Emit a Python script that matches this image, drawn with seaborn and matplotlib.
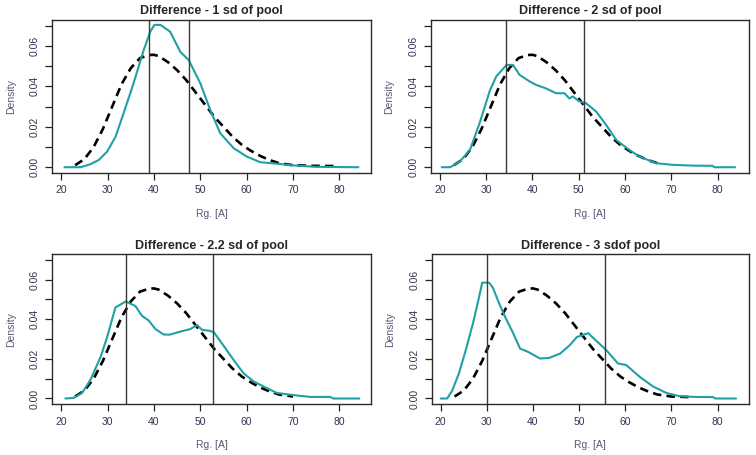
import matplotlib
matplotlib.use("Agg")
import matplotlib.pyplot as plt
import seaborn as sns

# pooled Rg distribution (dashed line), shared by all panels
pool_rg = [23, 25, 27, 29, 31, 33, 35, 37, 39, 40, 41, 43, 45, 47, 49, 51,
           53, 55, 57, 59, 61, 63, 65, 67, 70, 74, 79]
pool_density = [0.001, 0.004, 0.010, 0.019, 0.030, 0.041, 0.049, 0.054, 0.0555,
                0.0556, 0.055, 0.052, 0.048, 0.043, 0.037, 0.031, 0.025, 0.020,
                0.015, 0.011, 0.008, 0.0055, 0.0035, 0.002, 0.001, 0.0007, 0.0006]
# where the dashed curve stops in each panel
pool_end = [79.5, 67.5, 73.5, 74.0]

# selected sub-ensembles (teal lines)
sel1_rg = [20.7, 24.2, 26.3, 28.1, 29.9, 31.7, 33.5, 35.6, 37.8, 39.2, 40.1, 41.4,
           43.5, 45.7, 47.5, 50.0, 52.2, 54.3, 57.2, 60.0, 62.9, 67.2, 69.4, 75.0, 84.1]
sel1_density = [0.0, 0.0, 0.0015, 0.0036, 0.0077, 0.015, 0.027, 0.0415, 0.058, 0.067,
                0.0704, 0.0704, 0.067, 0.057, 0.053, 0.0415, 0.028, 0.0168, 0.0094,
                0.0053, 0.0025, 0.0016, 0.001, 0.0002, 0.0]

sel2_rg = [20.4, 22.2, 24.3, 26.5, 28.6, 30.8, 32.2, 34.4, 35.8, 37.2, 39.4, 40.8,
           42.9, 45.1, 46.9, 48.0, 48.7, 50.2, 51.6, 53.8, 55.9, 58.1, 60.9, 63.1,
           66.7, 70.3, 74.6, 78.9, 79.3, 83.8]
sel2_density = [0.0, 0.0, 0.0028, 0.0086, 0.022, 0.038, 0.045, 0.0506, 0.0506, 0.0457,
                0.0424, 0.0407, 0.039, 0.0366, 0.0366, 0.034, 0.035, 0.0325, 0.0316,
                0.0275, 0.021, 0.0135, 0.0086, 0.0053, 0.002, 0.0012, 0.0008, 0.0007,
                0.0, 0.0]

sel3_rg = [20.9, 22.7, 24.5, 26.3, 28.5, 29.9, 31.7, 33.9, 36.0, 37.4, 38.9, 40.3,
           42.1, 43.5, 45.7, 47.9, 49.3, 50.4, 51.8, 52.9, 54.7, 57.2, 59.3, 61.5,
           63.6, 66.5, 70.1, 73.7, 78.0, 78.7, 84.3]
sel3_density = [0.0, 0.0003, 0.0028, 0.0094, 0.021, 0.031, 0.046, 0.049, 0.0467,
                0.0418, 0.0393, 0.0351, 0.0323, 0.0323, 0.0338, 0.0351, 0.0371, 0.0346,
                0.0343, 0.0335, 0.0277, 0.0194, 0.0128, 0.0086, 0.0061, 0.0028, 0.0017,
                0.0008, 0.0008, 0.0, 0.0]

sel4_rg = [20.0, 21.4, 22.5, 24.0, 25.5, 27.0, 28.2, 29.0, 30.5, 31.3, 32.5, 34.0,
           35.5, 37.2, 39.0, 41.5, 43.5, 45.9, 48.0, 49.5, 51.3, 52.0, 53.0, 55.9,
           58.4, 60.2, 63.1, 66.0, 68.9, 71.7, 75.0, 79.0, 79.5, 84.0]
sel4_density = [0.0, 0.0, 0.004, 0.013, 0.025, 0.038, 0.050, 0.0585, 0.0585, 0.056,
                0.049, 0.041, 0.034, 0.0252, 0.0235, 0.0202, 0.0205, 0.0227, 0.027,
                0.031, 0.0325, 0.033, 0.0307, 0.0244, 0.0177, 0.0169, 0.011, 0.0061,
                0.0028, 0.0012, 0.0008, 0.0007, 0.0, 0.0]

titles = ["Difference - 1 sd of pool", "Difference - 2 sd of pool",
          "Difference - 2.2 sd of pool", "Difference - 3 sdof pool"]
cutoffs = [(39.0, 47.6), (34.2, 51.1), (33.9, 52.7), (30.1, 55.5)]

x_ticks = [20, 30, 40, 50, 60, 70, 80]
y_ticks = [0.00, 0.01, 0.02, 0.03, 0.04, 0.05, 0.06, 0.07]

sel_rg = [sel1_rg, sel2_rg, sel3_rg, sel4_rg]
sel_density = [sel1_density, sel2_density, sel3_density, sel4_density]

sns.set_style("ticks")
plt.rcParams['font.family'] = ['Liberation Sans', 'DejaVu Sans']

teal = "#21a0a4"
tick_col = "#2e3552"
label_col = "#555a75"

fig = plt.figure(figsize=(7.56, 4.55), dpi=100)
# axes boxes in figure fractions (left, bottom, width, height)
boxes = [(0.069, 0.620, 0.422, 0.336), (0.570, 0.620, 0.421, 0.336),
         (0.069, 0.112, 0.422, 0.329), (0.571, 0.112, 0.420, 0.329)]

for i in range(4):
    ax = fig.add_axes(boxes[i])

    # pooled distribution, cut where it stops in this panel
    px = [x for x in pool_rg if x <= pool_end[i]]
    py = pool_density[:len(px)]
    sns.lineplot(x=px, y=py, ax=ax, color="black", linewidth=1.9,
                 linestyle=(0, (3.2, 2.0)), sort=False)

    sns.lineplot(x=sel_rg[i], y=sel_density[i], ax=ax, color=teal,
                 linewidth=1.5, sort=False)

    for c in cutoffs[i]:
        ax.axvline(c, color="#3a3a3a", linewidth=1.0)

    ax.set_xlim(18.05, 86.85)
    ax.set_ylim(-0.0028, 0.0728)
    ax.set_xticks(x_ticks)
    ax.set_xticklabels([str(t) for t in x_ticks])
    ax.set_yticks(y_ticks)
    ax.set_yticklabels([f"{t:.2f}" if round(t * 100) % 2 == 0 else "" for t in y_ticks],
                       rotation=90, va="center")
    ax.tick_params(direction="out", length=5, width=0.9, color="#222222",
                   labelcolor=tick_col, labelsize=7.5, pad=4)

    for side in ["top", "right", "bottom", "left"]:
        ax.spines[side].set_visible(True)
        ax.spines[side].set_color("#2b2b2b")
        ax.spines[side].set_linewidth(1.0)

    ax.set_title(titles[i], fontsize=9, fontweight="bold", pad=4)
    ax.set_xlabel("Rg. [A]", fontsize=7.5, color=label_col, labelpad=10)
    ax.set_ylabel("Density", fontsize=7.5, color=label_col, labelpad=10)

fig.savefig("out.png", dpi=100)
